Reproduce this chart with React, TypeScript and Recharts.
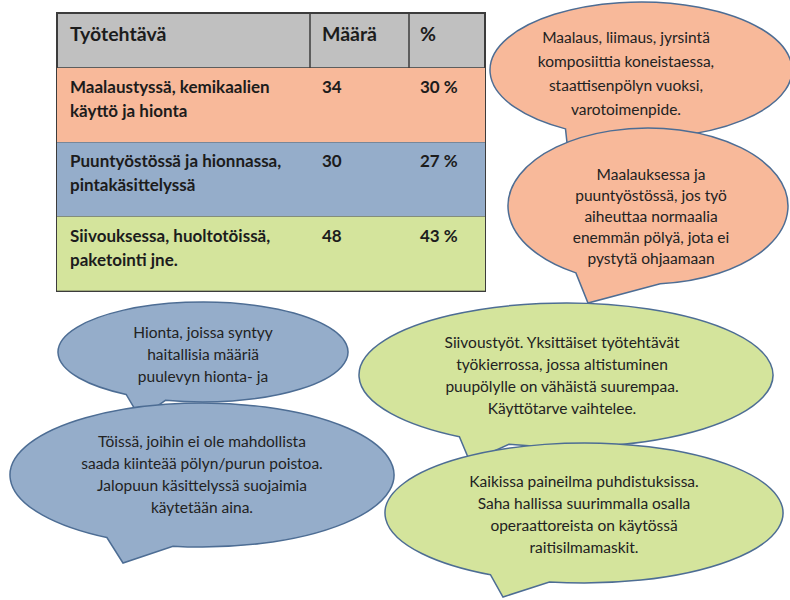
import { BarChart, Bar, XAxis, YAxis, Customized } from "recharts";

const headers = ["Työtehtävä", "Määrä", "%"];
const tasks = [
  ["Maalaustyssä, kemikaalien", "käyttö ja hionta"],
  ["Puuntyöstössä ja hionnassa,", "pintakäsittelyssä"],
  ["Siivouksessa, huoltotöissä,", "paketointi jne."],
];
const counts = [34, 30, 48];
const shares = [30, 27, 43];

const paintNote = ["Maalaus, liimaus, jyrsintä", "komposiittia koneistaessa,", "staattisenpölyn vuoksi,", "varotoimenpide."];
const paintWoodNote = ["Maalauksessa ja", "puuntyöstössä, jos työ", "aiheuttaa normaalia", "enemmän pölyä, jota ei", "pystytä ohjaamaan"];
const sandingNote = ["Hionta, joissa syntyy", "haitallisia määriä", "puulevyn hionta- ja"];
const fixedNote = ["Töissä, joihin ei ole mahdollista", "saada kiinteää pölyn/purun poistoa.", "Jalopuun käsittelyssä suojaimia", "käytetään aina."];
const cleaningNote = ["Siivoustyöt. Yksittäiset työtehtävät", "työkierrossa, jossa altistuminen", "puupölylle on vähäistä suurempaa.", "Käyttötarve vaihtelee."];
const airNote = ["Kaikissa paineilma puhdistuksissa.", "Saha hallissa suurimmalla osalla", "operaattoreista on käytössä", "raitisilmamaskit."];

const data = tasks.map((lines, i) => ({ task: lines.join(" "), lines, count: counts[i], share: shares[i] }));

const ORANGE = "#f8b99a";
const BLUE = "#95adca";
const GREEN = "#d4e49c";
const rowFills = [ORANGE, BLUE, GREEN];
const TABLE_LEFT = 57;
const TABLE_RIGHT = 485;
const TABLE_TOP = 13;
const HEADER_BOTTOM = 68;
const TABLE_BOTTOM = 291;
const COL_COUNT = 310;
const COL_SHARE = 409;
const BORDER = "#3c3c3c";
const FONT = "Lato, 'Open Sans', sans-serif";
const INK = "#1c1c1c";

const RowShape = (props: any) => {
  const { y, height, payload, index } = props;
  return (
    <g>
      <rect x={TABLE_LEFT} y={y} width={TABLE_RIGHT - TABLE_LEFT} height={height} fill={rowFills[index]} />
      {payload.lines.map((l: string, j: number) => (
        <text key={j} x={70} y={y + 25 + j * 24} fontSize={17} fontWeight={700} fill={INK} fontFamily={FONT}>
          {l}
        </text>
      ))}
      <text x={322} y={y + 25} fontSize={17} fontWeight={700} fill={INK} fontFamily={FONT}>
        {payload.count}
      </text>
      <text x={420} y={y + 25} fontSize={17} fontWeight={700} fill={INK} fontFamily={FONT}>
        {payload.share} %
      </text>
    </g>
  );
};

const TableFrame = () => {
  const rowH = (TABLE_BOTTOM - HEADER_BOTTOM) / data.length;
  return (
    <g>
      <rect x={TABLE_LEFT} y={TABLE_TOP} width={TABLE_RIGHT - TABLE_LEFT} height={HEADER_BOTTOM - TABLE_TOP} fill="#c0c0c0" />
      <text x={70} y={41} fontSize={19.5} fontWeight={700} fill={INK} fontFamily={FONT}>{headers[0]}</text>
      <text x={322} y={41} fontSize={19.5} fontWeight={700} fill={INK} fontFamily={FONT}>{headers[1]}</text>
      <text x={420} y={41} fontSize={19.5} fontWeight={700} fill={INK} fontFamily={FONT}>{headers[2]}</text>
      {data.map((_, i) => (
        <line key={i} x1={TABLE_LEFT} x2={TABLE_RIGHT} y1={HEADER_BOTTOM + i * rowH} y2={HEADER_BOTTOM + i * rowH} stroke={BORDER} strokeWidth={1.5} />
      ))}
      <line x1={COL_COUNT} x2={COL_COUNT} y1={TABLE_TOP} y2={TABLE_BOTTOM} stroke={BORDER} strokeWidth={1.5} />
      <line x1={COL_SHARE} x2={COL_SHARE} y1={TABLE_TOP} y2={TABLE_BOTTOM} stroke={BORDER} strokeWidth={1.5} />
      <rect x={TABLE_LEFT} y={TABLE_TOP} width={TABLE_RIGHT - TABLE_LEFT} height={TABLE_BOTTOM - TABLE_TOP} fill="none" stroke={BORDER} strokeWidth={2} />
    </g>
  );
};

// speech bubble: ellipse with a tail between angles t1..t2 (degrees)
function bubblePath(cx: number, cy: number, rx: number, ry: number, t1: number, t2: number, tx: number, ty: number) {
  const p = (t: number) => [cx + rx * Math.cos((t * Math.PI) / 180), cy + ry * Math.sin((t * Math.PI) / 180)];
  const [x1, y1] = p(t1);
  const [x2, y2] = p(t2);
  return `M${x1},${y1} A${rx},${ry} 0 1 0 ${x2},${y2} L${tx},${ty} Z`;
}

const bubbles = [
  { fill: ORANGE, e: [641, 70, 151, 68], tail: [105, 120, 568, 152], tx: 626, ty: 38, gap: 24, lines: paintNote },
  { fill: ORANGE, e: [648, 206, 140, 78], tail: [85, 121, 588, 303], tx: 651, ty: 175, gap: 21, lines: paintWoodNote },
  { fill: BLUE, e: [203, 352, 145, 50], tail: [105, 122, 140, 418], tx: 203, ty: 333, gap: 22, lines: sandingNote },
  { fill: BLUE, e: [202, 475, 192, 72], tail: [98.7, 119.7, 123, 563], tx: 202, ty: 442, gap: 22, lines: fixedNote },
  { fill: GREEN, e: [566, 375, 207, 72], tail: [106, 121, 470, 462], tx: 562, ty: 343, gap: 22, lines: cleaningNote },
  { fill: GREEN, e: [584, 513, 199, 70], tail: [100, 118, 503, 597], tx: 584, ty: 482, gap: 22, lines: airNote },
];

const Bubbles = () => (
  <g>
    {bubbles.map((b, i) => (
      <g key={i}>
        <path
          d={bubblePath(b.e[0], b.e[1], b.e[2], b.e[3], b.tail[0], b.tail[1], b.tail[2], b.tail[3])}
          fill={b.fill}
          stroke="#4d6d94"
          strokeWidth={1.5}
        />
        {b.lines.map((l, j) => (
          <text key={j} x={b.tx} y={b.ty + j * b.gap + 5} textAnchor="middle" fontSize={15.5} fill="#222" fontFamily={FONT}>
            {l}
          </text>
        ))}
      </g>
    ))}
  </g>
);

export default function App() {
  return (
    <div style={{ position: "absolute", left: 0, top: 0, background: "#fff" }}>
      <BarChart
        width={790}
        height={600}
        data={data}
        layout="vertical"
        barCategoryGap={0}
        margin={{ top: HEADER_BOTTOM, right: 790 - TABLE_RIGHT, bottom: 600 - TABLE_BOTTOM, left: TABLE_LEFT }}
      >
        <XAxis type="number" hide domain={[0, 48]} />
        <YAxis type="category" dataKey="task" hide />
        <Bar dataKey="count" shape={RowShape} isAnimationActive={false} />
        <Customized component={<TableFrame />} />
        <Customized component={<Bubbles />} />
      </BarChart>
    </div>
  );
}
